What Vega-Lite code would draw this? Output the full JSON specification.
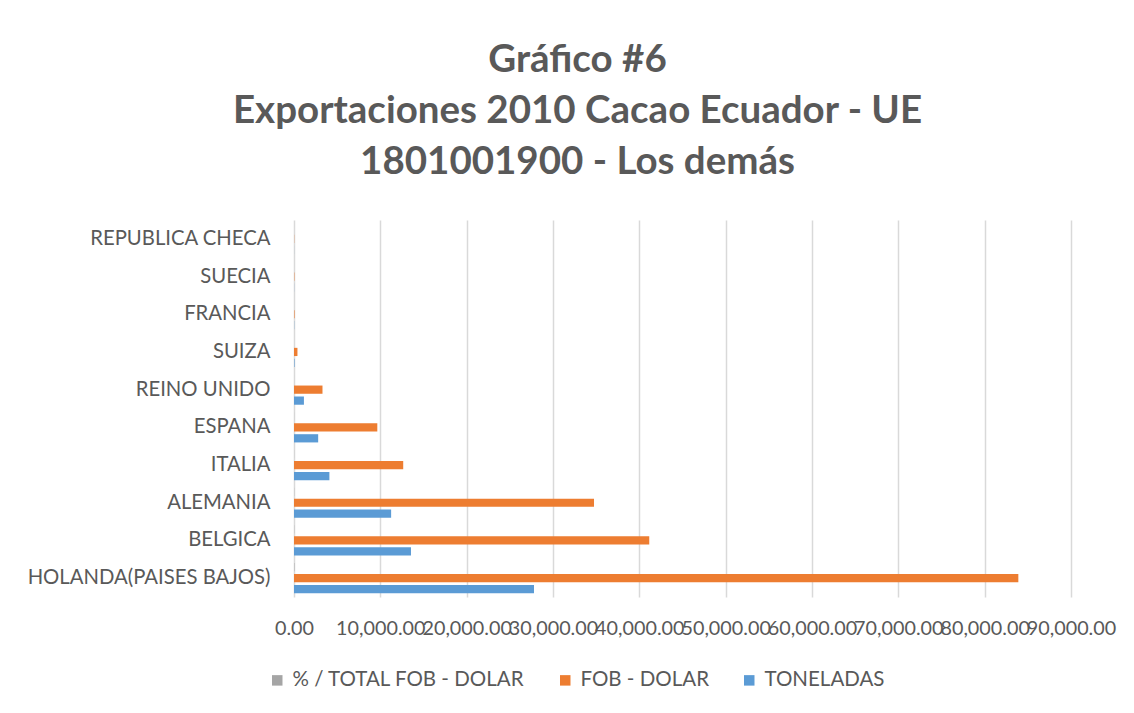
{
  "$schema": "https://vega.github.io/schema/vega-lite/v6.json",
  "autosize": {"type": "none"},
  "width": 777,
  "height": 377,
  "padding": {"left": 294, "top": 220, "right": 63, "bottom": 116},
  "background": "white",
  "title": {
    "text": ["Gráfico #6", "Exportaciones 2010 Cacao Ecuador - UE", "1801001900 - Los demás"],
    "font": "Lato",
    "fontSize": 38.5,
    "fontWeight": "bold",
    "color": "#595959",
    "lineHeight": 51,
    "anchor": "middle",
    "dx": -105,
    "offset": 38
  },
  "data": {
    "values": [
      {"pais": "HOLANDA(PAISES BAJOS)", "serie": "% / TOTAL FOB - DOLAR", "valor": 45.2},
      {"pais": "HOLANDA(PAISES BAJOS)", "serie": "FOB - DOLAR", "valor": 83900},
      {"pais": "HOLANDA(PAISES BAJOS)", "serie": "TONELADAS", "valor": 27800},
      {"pais": "BELGICA", "serie": "% / TOTAL FOB - DOLAR", "valor": 22.2},
      {"pais": "BELGICA", "serie": "FOB - DOLAR", "valor": 41150},
      {"pais": "BELGICA", "serie": "TONELADAS", "valor": 13550},
      {"pais": "ALEMANIA", "serie": "% / TOTAL FOB - DOLAR", "valor": 18.7},
      {"pais": "ALEMANIA", "serie": "FOB - DOLAR", "valor": 34750},
      {"pais": "ALEMANIA", "serie": "TONELADAS", "valor": 11250},
      {"pais": "ITALIA", "serie": "% / TOTAL FOB - DOLAR", "valor": 6.8},
      {"pais": "ITALIA", "serie": "FOB - DOLAR", "valor": 12650},
      {"pais": "ITALIA", "serie": "TONELADAS", "valor": 4100},
      {"pais": "ESPANA", "serie": "% / TOTAL FOB - DOLAR", "valor": 5.2},
      {"pais": "ESPANA", "serie": "FOB - DOLAR", "valor": 9650},
      {"pais": "ESPANA", "serie": "TONELADAS", "valor": 2800},
      {"pais": "REINO UNIDO", "serie": "% / TOTAL FOB - DOLAR", "valor": 1.8},
      {"pais": "REINO UNIDO", "serie": "FOB - DOLAR", "valor": 3300},
      {"pais": "REINO UNIDO", "serie": "TONELADAS", "valor": 1150},
      {"pais": "SUIZA", "serie": "% / TOTAL FOB - DOLAR", "valor": 0.2},
      {"pais": "SUIZA", "serie": "FOB - DOLAR", "valor": 400},
      {"pais": "SUIZA", "serie": "TONELADAS", "valor": 60},
      {"pais": "FRANCIA", "serie": "% / TOTAL FOB - DOLAR", "valor": 0.05},
      {"pais": "FRANCIA", "serie": "FOB - DOLAR", "valor": 60},
      {"pais": "FRANCIA", "serie": "TONELADAS", "valor": 20},
      {"pais": "SUECIA", "serie": "% / TOTAL FOB - DOLAR", "valor": 0.02},
      {"pais": "SUECIA", "serie": "FOB - DOLAR", "valor": 40},
      {"pais": "SUECIA", "serie": "TONELADAS", "valor": 10},
      {"pais": "REPUBLICA CHECA", "serie": "% / TOTAL FOB - DOLAR", "valor": 0.01},
      {"pais": "REPUBLICA CHECA", "serie": "FOB - DOLAR", "valor": 20},
      {"pais": "REPUBLICA CHECA", "serie": "TONELADAS", "valor": 5}
    ]
  },
  "mark": {"type": "bar"},
  "encoding": {
    "y": {
      "field": "pais",
      "type": "nominal",
      "sort": ["REPUBLICA CHECA", "SUECIA", "FRANCIA", "SUIZA", "REINO UNIDO", "ESPANA", "ITALIA", "ALEMANIA", "BELGICA", "HOLANDA(PAISES BAJOS)"],
      "scale": {"paddingInner": 0.2, "paddingOuter": 0.1},
      "axis": {
        "title": null,
        "domain": false,
        "ticks": false,
        "labelFont": "Lato",
        "labelFontSize": 20.3,
        "labelColor": "#595959",
        "labelPadding": 24,
        "labelLimit": 400
      }
    },
    "yOffset": {
      "field": "serie",
      "type": "nominal",
      "sort": ["% / TOTAL FOB - DOLAR", "FOB - DOLAR", "TONELADAS"],
      "scale": {"paddingInner": 0.25}
    },
    "x": {
      "field": "valor",
      "type": "quantitative",
      "scale": {"domain": [0, 90000], "nice": false},
      "axis": {
        "title": null,
        "domain": false,
        "ticks": false,
        "values": [0, 10000, 20000, 30000, 40000, 50000, 60000, 70000, 80000, 90000],
        "format": ",.2f",
        "labelOverlap": false,
        "labelFlush": false,
        "labelFont": "Lato",
        "labelFontSize": 19.8,
        "labelColor": "#595959",
        "labelPadding": 21,
        "grid": true,
        "gridColor": "#d9d9d9",
        "gridWidth": 1.5
      }
    },
    "color": {
      "field": "serie",
      "type": "nominal",
      "sort": ["% / TOTAL FOB - DOLAR", "FOB - DOLAR", "TONELADAS"],
      "scale": {
        "domain": ["% / TOTAL FOB - DOLAR", "FOB - DOLAR", "TONELADAS"],
        "range": ["#A5A5A5", "#ED7D31", "#5B9BD5"]
      },
      "legend": {
        "title": null,
        "orient": "none",
        "direction": "horizontal",
        "legendX": -27,
        "legendY": 450,
        "symbolType": "square",
        "symbolSize": 110,
        "symbolStrokeWidth": 0,
        "labelFont": "Lato",
        "labelFontSize": 20.5,
        "labelColor": "#595959",
        "labelLimit": 400,
        "columnPadding": 30,
        "labelOffset": 5
      }
    }
  },
  "config": {
    "view": {"stroke": null}
  }
}
